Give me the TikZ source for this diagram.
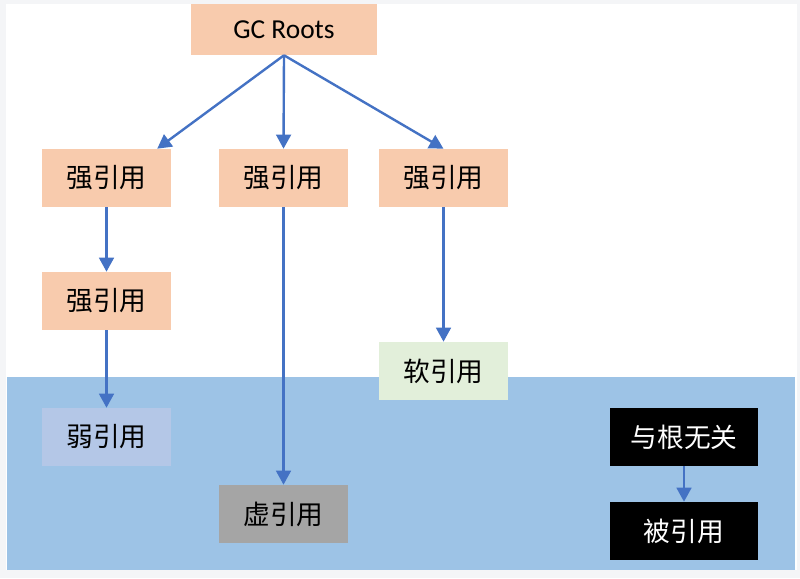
\documentclass[tikz,border=0pt]{standalone}
\usepackage{fontspec}
\setmainfont{Carlito}
\newfontfamily\cjk{Noto Sans CJK SC}
\usetikzlibrary{arrows.meta}
\definecolor{peach}{HTML}{F8CBAD}
\definecolor{skyblue}{HTML}{9DC3E6}
\definecolor{lavender}{HTML}{B4C7E7}
\definecolor{mint}{HTML}{E2EFDA}
\definecolor{greybox}{HTML}{A5A5A5}
\definecolor{linkblue}{HTML}{4472C4}
\definecolor{frame}{HTML}{F4F5F7}
\begin{document}
\begin{tikzpicture}[x=0.025cm, y=-0.025cm,
    refbox/.style={minimum width=3.2cm, minimum height=1.45cm, inner sep=0pt,
      font=\fontsize{19}{21}\selectfont\cjk},
    darkbox/.style={refbox, fill=black, text=white, minimum width=3.7cm},
    link/.style={-{Triangle[length=10pt, width=10.5pt]}, linkblue, line width=1.7pt}]
  % canvas
  \fill[frame] (0,0) rectangle (800,578);
  \fill[white] (6,4) rectangle (797,570);
  \fill[skyblue] (7,377) rectangle (795,570);
  \useasboundingbox (0,0) rectangle (800,578);

  \node[fill=peach, minimum width=4.65cm, minimum height=1.275cm, inner sep=0pt,
    font=\fontsize{19.5}{21}\selectfont] (root) at (284,29.5) {GC Roots};

  \node[refbox, fill=peach]    (strongA) at (106.5,178)   {强引用};
  \node[refbox, fill=peach]    (strongB) at (283.5,178)   {强引用};
  \node[refbox, fill=peach]    (strongC) at (443.5,178)   {强引用};
  \node[refbox, fill=peach]    (strongD) at (106.5,301)   {强引用};
  \node[refbox, fill=lavender] (weak)    at (106.5,437)   {弱引用};
  \node[refbox, fill=greybox]  (phantom) at (283.5,514)   {虚引用};
  \node[refbox, fill=mint]     (soft)    at (443.5,371)   {软引用};

  \node[darkbox] (unrooted) at (684,437) {与根无关};
  \node[darkbox] (reffed)   at (684,531) {被引用};

  \draw[link] (root.south) -- (strongA.30);
  \draw[link] (root.south) -- (strongB.north);
  \draw[link] (root.south) -- (strongC.north);
  \draw[link] (strongA.south) -- (strongD.north);
  \draw[link] (strongD.south) -- (weak.north);
  \draw[link] (strongB.south) -- (phantom.north);
  \draw[link] (strongC.south) -- (soft.north);
  \draw[link] (unrooted.south) -- (reffed.north);
\end{tikzpicture}
\end{document}
